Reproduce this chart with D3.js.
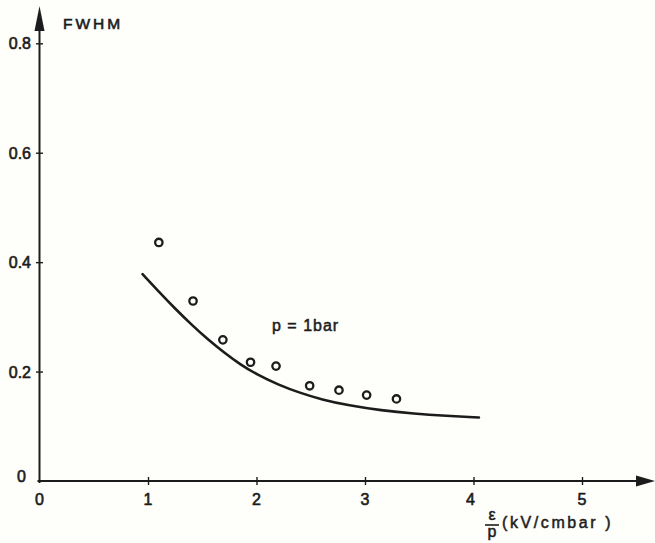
<!DOCTYPE html>
<html>
<head>
<meta charset="utf-8">
<script src="https://cdn.jsdelivr.net/npm/d3@7"></script>
<style>
  html, body { margin: 0; padding: 0; background: #fefefb; }
  svg { display: block; }
  text { font-family: "Liberation Sans", Arial, sans-serif; fill: #1c1c1c; }
</style>
</head>
<body>
<svg id="chart" width="655" height="543"></svg>
<script>
// Measured FWHM versus reduced field E/p at p = 1 bar
const measE = [1.10, 1.415, 1.69, 1.945, 2.18, 2.49, 2.76, 3.015, 3.29];
const measFWHM = [0.436, 0.329, 0.258, 0.217, 0.210, 0.174, 0.166, 0.157, 0.150];

// Calculated curve
const calcE = [0.95, 1.10, 1.25, 1.40, 1.55, 1.70, 1.85, 2.00, 2.20, 2.40, 2.60, 2.85, 3.15, 3.45, 3.75, 4.05];
const calcFWHM = [0.378, 0.346, 0.315, 0.286, 0.259, 0.235, 0.213, 0.195, 0.176, 0.161, 0.149, 0.138, 0.129, 0.123, 0.119, 0.116];

const xTicks = [0, 1, 2, 3, 4, 5];
const yTicks = [0, 0.2, 0.4, 0.6, 0.8];
const yTickLabels = ["0", "0.2", "0.4", "0.6", "0.8"];

const ink = "#1c1c1c";
const svg = d3.select("#chart");

const x = d3.scaleLinear().domain([0, 5]).range([39.5, 582]);
const y = d3.scaleLinear().domain([0, 0.8]).range([481, 43.3]);

// Axis lines with arrowheads
svg.append("line")
  .attr("x1", x(0)).attr("y1", y(0) + 2)
  .attr("x2", x(0)).attr("y2", 24)
  .attr("stroke", ink).attr("stroke-width", 2);
svg.append("path")
  .attr("d", `M${x(0)},6 L${x(0) - 5},31 L${x(0) + 5},31 Z`)
  .attr("fill", ink);

svg.append("line")
  .attr("x1", x(0) - 2).attr("y1", y(0))
  .attr("x2", 640).attr("y2", y(0))
  .attr("stroke", ink).attr("stroke-width", 2);
svg.append("path")
  .attr("d", `M655,${y(0)} L636,${y(0) - 5.5} L636,${y(0) + 5.5} Z`)
  .attr("fill", ink);

// Tick crosses
const yAxis = svg.append("g").attr("transform", `translate(${x(0)},0)`)
  .call(d3.axisLeft(y).tickValues(yTicks.slice(1)).tickSize(3.5).tickFormat(""));
yAxis.select(".domain").remove();
yAxis.selectAll(".tick line").attr("stroke", ink).attr("stroke-width", 1.4);
yAxis.selectAll(".tick").append("line")
  .attr("x1", 0).attr("x2", 3.5).attr("stroke", ink).attr("stroke-width", 1.4);

const xAxis = svg.append("g").attr("transform", `translate(0,${y(0)})`)
  .call(d3.axisBottom(x).tickValues(xTicks.slice(1)).tickSize(4).tickFormat(""));
xAxis.select(".domain").remove();
xAxis.selectAll(".tick line").attr("stroke", ink).attr("stroke-width", 1.4);
xAxis.selectAll(".tick").append("line")
  .attr("y1", 0).attr("y2", -4).attr("stroke", ink).attr("stroke-width", 1.4);

// Tick labels
const labelStyle = sel => sel
  .attr("font-size", 16)
  .attr("stroke", ink).attr("stroke-width", 0.6);

svg.append("g").selectAll("text")
  .data(yTicks)
  .join("text")
  .attr("x", (d, i) => i === 0 ? 26 : 31)
  .attr("y", d => d === 0 ? y(d) + 1 : y(d) + 6)
  .attr("text-anchor", "end")
  .text((d, i) => yTickLabels[i])
  .call(labelStyle);

svg.append("g").selectAll("text")
  .data(xTicks)
  .join("text")
  .attr("x", d => x(d) + (d === 4 ? -3 : 0))
  .attr("y", 505)
  .attr("text-anchor", "middle")
  .text(d => d)
  .call(labelStyle);

// Axis titles
svg.append("text")
  .attr("x", 63).attr("y", 28.5)
  .attr("font-size", 15.5)
  .attr("letter-spacing", 3)
  .attr("stroke", ink).attr("stroke-width", 0.6)
  .text("FWHM");

svg.append("text")
  .attr("x", 492).attr("y", 520)
  .attr("text-anchor", "middle")
  .attr("font-size", 16)
  .attr("stroke", ink).attr("stroke-width", 0.5)
  .text("ε");
svg.append("line")
  .attr("x1", 485).attr("x2", 499).attr("y1", 525).attr("y2", 525)
  .attr("stroke", ink).attr("stroke-width", 1.6);
svg.append("text")
  .attr("x", 492).attr("y", 537)
  .attr("text-anchor", "middle")
  .attr("font-size", 16)
  .attr("stroke", ink).attr("stroke-width", 0.5)
  .text("p");
svg.append("text")
  .attr("x", 502).attr("y", 527.5)
  .attr("font-size", 16)
  .attr("letter-spacing", 2.6)
  .attr("stroke", ink).attr("stroke-width", 0.5)
  .text("(kV/cmbar )");

// Calculated curve
svg.append("path")
  .datum(calcE.map((e, i) => [e, calcFWHM[i]]))
  .attr("fill", "none")
  .attr("stroke", ink)
  .attr("stroke-width", 2.6)
  .attr("stroke-linecap", "round")
  .attr("d", d3.line().x(d => x(d[0])).y(d => y(d[1])).curve(d3.curveBasis));

// Measured points
svg.append("g").selectAll("circle")
  .data(measE.map((e, i) => [e, measFWHM[i]]))
  .join("circle")
  .attr("cx", d => x(d[0]))
  .attr("cy", d => y(d[1]))
  .attr("r", 3.7)
  .attr("fill", "none")
  .attr("stroke", ink)
  .attr("stroke-width", 2.3);

// Curve label
svg.append("text")
  .attr("x", 272).attr("y", 331)
  .attr("font-size", 16)
  .attr("letter-spacing", 1)
  .attr("stroke", ink).attr("stroke-width", 0.5)
  .text("p = 1bar");
</script>
</body>
</html>
